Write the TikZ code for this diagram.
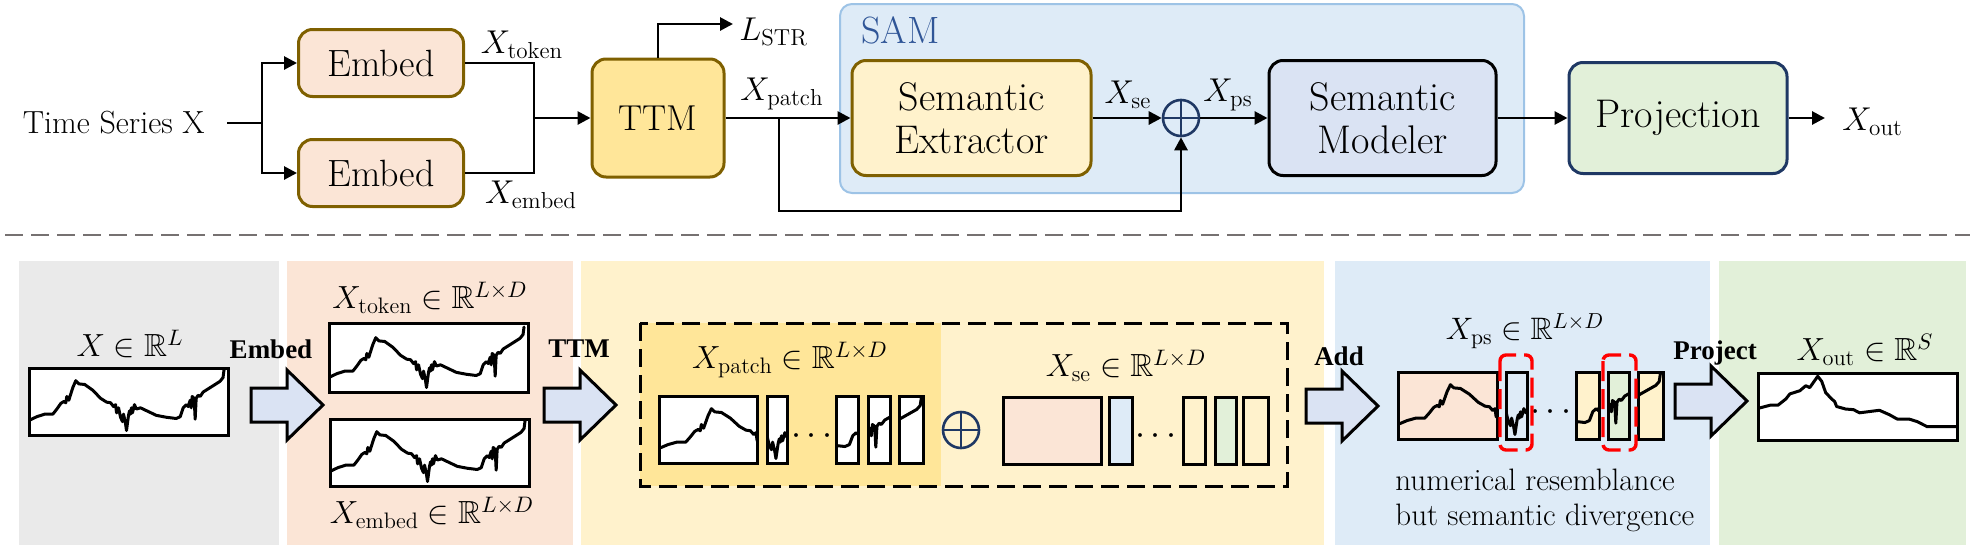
\RequirePackage{fix-cm}
\documentclass[tikz,border=0pt]{standalone}
\usepackage{amssymb}
\usepackage{fontspec}
\newfontfamily\tnr{Liberation Serif}
\usetikzlibrary{arrows.meta}

\definecolor{peach}{HTML}{FBE5D6}
\definecolor{gold}{HTML}{FFE699}
\definecolor{cream}{HTML}{FFF2CC}
\definecolor{samfill}{HTML}{DEEBF7}
\definecolor{samline}{HTML}{9DC3E6}
\definecolor{samtext}{HTML}{2F5597}
\definecolor{modfill}{HTML}{DAE3F3}
\definecolor{projfill}{HTML}{E2F0D9}
\definecolor{navy}{HTML}{1F3864}
\definecolor{brownline}{HTML}{7F6000}
\definecolor{panelgray}{HTML}{EAEAEA}
\definecolor{sepgray}{HTML}{767171}

\newcommand\piece[8]{%
  \fill[#7] (#1,#3) rectangle (#2,#4);
  \begin{scope}
    \clip (#1,#3) rectangle (#2,#4);
    \pic[xscale=#5, yscale=-63] at ({#1-#6*#5},{#4-2}) {#8};
  \end{scope}
  \draw[seriesbox] (#1,#3) rectangle (#2,#4);
}

\tikzset{
  block/.style={draw=brownline, line width=1.5pt, rounded corners=7pt, align=center, inner sep=0pt,
    font=\fontsize{20}{21.5}\selectfont},
  wire/.style={line width=1.4pt},
  flow/.style={wire, -{Triangle[length=6.5pt,width=6.5pt]}},
  toplabel/.style={font=\fontsize{16.5}{18}\selectfont, inner sep=1pt},
  steplabel/.style={font=\tnr\bfseries\fontsize{13.5}{16}\selectfont, inner sep=0pt},
  dimlabel/.style={font=\fontsize{16}{18}\selectfont, inner sep=0pt},
  oplus/.style={circle, draw=navy, line width=1.3pt, minimum size=18pt, inner sep=0pt,
    path picture={\draw[navy, line width=1.3pt]
      (path picture bounding box.north) -- (path picture bounding box.south)
      (path picture bounding box.west) -- (path picture bounding box.east);}},
  seriesbox/.style={draw, line width=1.5pt},
  redbox/.style={draw=red, line width=1.7pt, rounded corners=3pt, dash pattern=on 10pt off 4pt},
  tsline/.style={line width=1.5pt, line join=round, line cap=round},
  curveA/.pic={
    \draw[tsline] (0,0.2) -- (0.04,0.26) -- (0.08,0.3) -- (0.12,0.3) -- (0.14,0.38) -- (0.16,0.47)
      -- (0.175,0.5) -- (0.185,0.48) -- (0.19,0.58) -- (0.2,0.52) -- (0.21,0.62) -- (0.22,0.72)
      -- (0.235,0.83) -- (0.25,0.78) -- (0.28,0.77) -- (0.32,0.68) -- (0.36,0.55) -- (0.39,0.49)
      -- (0.41,0.48) -- (0.425,0.42) -- (0.435,0.45) -- (0.44,0.32) -- (0.45,0.4) -- (0.46,0.25)
      -- (0.47,0.18) -- (0.475,0.3) -- (0.485,0.15) -- (0.49,0.04) -- (0.5,0.28) -- (0.505,0.35)
      -- (0.51,0.3) -- (0.515,0.4) -- (0.52,0.32) -- (0.53,0.45) -- (0.54,0.38) -- (0.56,0.4)
      -- (0.6,0.34) -- (0.64,0.28) -- (0.69,0.25) -- (0.74,0.23) -- (0.76,0.26) -- (0.775,0.4)
      -- (0.79,0.45) -- (0.8,0.42) -- (0.81,0.52) -- (0.815,0.4) -- (0.82,0.58) -- (0.83,0.55)
      -- (0.835,0.22) -- (0.84,0.55) -- (0.85,0.6) -- (0.86,0.58) -- (0.875,0.65) -- (0.9,0.7)
      -- (0.93,0.76) -- (0.96,0.82) -- (0.975,0.88) -- (0.98,1.0);
  },
  curveB/.pic={
    \draw[tsline] (0,0.47) -- (0.06,0.52) -- (0.1,0.52) -- (0.14,0.62) -- (0.16,0.7) -- (0.21,0.75)
      -- (0.24,0.83) -- (0.26,0.8) -- (0.3,0.98) -- (0.32,0.9) -- (0.34,0.72) -- (0.37,0.62)
      -- (0.385,0.58) -- (0.395,0.5) -- (0.44,0.46) -- (0.48,0.45) -- (0.51,0.4) -- (0.56,0.42)
      -- (0.61,0.44) -- (0.66,0.37) -- (0.7,0.3) -- (0.76,0.3) -- (0.8,0.26) -- (0.85,0.18) -- (1,0.18);
  },
  bigarrow/.pic={
    \draw[line width=1.5pt, fill=modfill, line join=miter] (0,-17) -- (36,-17) -- (36,-35) -- (72,0)
      -- (36,35) -- (36,17) -- (0,17) -- cycle;
  },
}

\begin{document}
\begin{tikzpicture}[x=0.5pt, y=-0.5pt]
    \useasboundingbox (0,0) rectangle (1974,552);

    \node[draw=samline, fill=samfill, line width=1pt, rounded corners=6pt, minimum width=342pt,
      minimum height=94.5pt] (sam) at (1182,98.5) {};
    \node[font=\fontsize{19}{20}\selectfont, text=samtext, anchor=west, inner sep=0pt] (samlbl) at (861,30) {SAM};

    \node[font=\fontsize{16}{18}\selectfont, anchor=east, inner xsep=11pt, inner ysep=0pt] (ts) at (227,123) {Time Series X};
    \coordinate (j1) at (262,123);
    \node[block, fill=peach, minimum width=82.5pt, minimum height=33.5pt, font=\fontsize{19}{20}\selectfont] (emb1) at (381,63) {Embed};
    \node[block, fill=peach, minimum width=82.5pt, minimum height=33.5pt, font=\fontsize{19}{20}\selectfont] (emb2) at (381,173) {Embed};
    \coordinate (j2) at (534,118);
    \node[block, fill=gold, minimum width=66pt, minimum height=59pt, font=\fontsize{18}{20}\selectfont] (ttm) at (658,118) {TTM};
    \coordinate (lstrend) at (733,24);
    \node[block, fill=cream, minimum width=119.5pt, minimum height=57.5pt] (se) at (971.5,118) {Semantic\\Extractor};
    \node[oplus] (plus) at (1181,118) {};
    \node[block, draw=black, fill=modfill, minimum width=113.5pt, minimum height=57.5pt] (sm) at (1382.5,118) {Semantic\\Modeler};
    \node[block, draw=navy, fill=projfill, minimum width=109pt, minimum height=55.5pt] (proj) at (1678,118) {Projection};
    \coordinate (outend) at (1825,118);
    \coordinate (br) at (779,118);
    \coordinate (brlow) at (779,211);

    \draw[wire] (ts.east) -- (j1);
    \draw[flow] (j1) |- (emb1.west);
    \draw[flow] (j1) |- (emb2.west);
    \draw[wire] (emb1.east) -| (j2) |- (emb2.east);
    \draw[flow] (j2) -- (ttm.west);
    \draw[flow] (ttm.north) |- (lstrend);
    \draw[flow] (ttm.east) -- (se.west);
    \draw[flow] (br) -- (brlow) -| (plus.south);
    \draw[flow] (se.east) -- (plus.west);
    \draw[flow] (plus.east) -- (sm.west);
    \draw[flow] (sm.east) -- (proj.west);
    \draw[flow] (proj.east) -- (outend);

    \node[toplabel] (xtoken) at (522,45) {$X_{\mathrm{token}}$};
    \node[toplabel] (xembed) at (531,195) {$X_{\mathrm{embed}}$};
    \node[toplabel, anchor=north west] (lstr) at (737,16) {$L_{\mathrm{STR}}$};
    \node[toplabel] (xpatch) at (782,94) {$X_{\mathrm{patch}}$};
    \node[toplabel] (xse) at (1128,95) {$X_{\mathrm{se}}$};
    \node[toplabel] (xps) at (1228,95) {$X_{\mathrm{ps}}$};
    \node[toplabel, anchor=west] (xout) at (1840,122) {$X_{\mathrm{out}}$};

    \draw[draw=sepgray, line width=1pt, dash pattern=on 9pt off 4pt] (5,235) -- (1970,235);

    \fill[panelgray] (19,261) rectangle (279,545);
    \fill[peach] (287,261) rectangle (573,545);
    \fill[cream] (581,261) rectangle (1324,545);
    \fill[samfill] (1335,261) rectangle (1710,545);
    \fill[projfill] (1719,261) rectangle (1966,545);

    \node[dimlabel] (xin) at (130,344) {$X \in \mathbb{R}^{L}$};
    \piece{29}{228}{368}{435}{199}{0}{white}{curveA}
    \node[steplabel] (embedstep) at (271,349) {Embed};
    \pic at (251,405) {bigarrow};
    \node[dimlabel] (xtokdim) at (430,298) {$X_{\mathrm{token}} \in \mathbb{R}^{L\times D}$};
    \piece{329}{528}{323}{392}{199}{0}{white}{curveA}
    \piece{330}{529}{419}{486}{199}{0}{white}{curveA}
    \node[dimlabel] (xembdim) at (432,513) {$X_{\mathrm{embed}} \in \mathbb{R}^{L\times D}$};

    \node[steplabel] (ttmstep) at (579,349) {TTM};
    \pic at (544,405) {bigarrow};
    \fill[gold] (640,323) rectangle (941,486);
    \draw[line width=1.5pt, dash pattern=on 9pt off 4pt] (640,323) rectangle (1287,486);
    \node[dimlabel] (xpatchdim) at (790,360) {$X_{\mathrm{patch}} \in \mathbb{R}^{L\times D}$};
    \piece{659}{757}{396}{463}{223}{0}{white}{curveA}
    \piece{767}{787}{396}{463}{223}{0.45}{white}{curveA}
    \node (pdots) at (812,436) {\fontsize{18}{18}\selectfont$\cdots$};
    \piece{836}{858}{396}{463}{223}{0.70}{white}{curveA}
    \piece{868}{890}{396}{463}{223}{0.80}{white}{curveA}
    \piece{899}{923}{396}{463}{223}{0.88}{white}{curveA}
    \node[oplus] (plusdim) at (961,430) {};
    \node[dimlabel] (xsedim) at (1126,366) {$X_{\mathrm{se}} \in \mathbb{R}^{L\times D}$};
    \draw[seriesbox, fill=peach] (1003,397) rectangle (1101,464);
    \draw[seriesbox, fill=samfill] (1109,397) rectangle (1132,464);
    \node (sdots) at (1156,436) {\fontsize{18}{18}\selectfont$\cdots$};
    \draw[seriesbox, fill=cream] (1183,397) rectangle (1205,464);
    \draw[seriesbox, fill=projfill] (1215,397) rectangle (1236,464);
    \draw[seriesbox, fill=cream] (1243,397) rectangle (1268,464);

    \node[steplabel] (addstep) at (1339,356) {Add};
    \pic at (1306,406) {bigarrow};
    \node[dimlabel, font=\fontsize{15.5}{18}\selectfont] (xpsdim) at (1525,331) {$X_{\mathrm{ps}} \in \mathbb{R}^{L\times D}$};
    \piece{1398}{1497}{372}{439}{223}{0}{peach}{curveA}
    \piece{1506}{1527}{372}{439}{223}{0.45}{samfill}{curveA}
    \node (qdots) at (1551,412) {\fontsize{18}{18}\selectfont$\cdots$};
    \piece{1576}{1599}{372}{439}{223}{0.70}{cream}{curveA}
    \piece{1608}{1629}{372}{439}{223}{0.80}{projfill}{curveA}
    \piece{1638}{1663}{372}{439}{223}{0.88}{cream}{curveA}
    \draw[redbox] (1500,355) rectangle (1532,450);
    \draw[redbox] (1603,355) rectangle (1636,450);
    \node[font=\fontsize{15.5}{17.5}\selectfont, align=left, anchor=west, inner sep=0pt] (note) at (1395,500)
      {numerical resemblance\\but semantic divergence};

    \node[steplabel] (projstep) at (1715,353) {Project};
    \pic at (1675,401) {bigarrow};
    \node[dimlabel] (xoutdim) at (1865,350) {$X_{\mathrm{out}} \in \mathbb{R}^{S}$};
    \piece{1758}{1957}{373}{440}{199}{0}{white}{curveB}
\end{tikzpicture}
\end{document}
